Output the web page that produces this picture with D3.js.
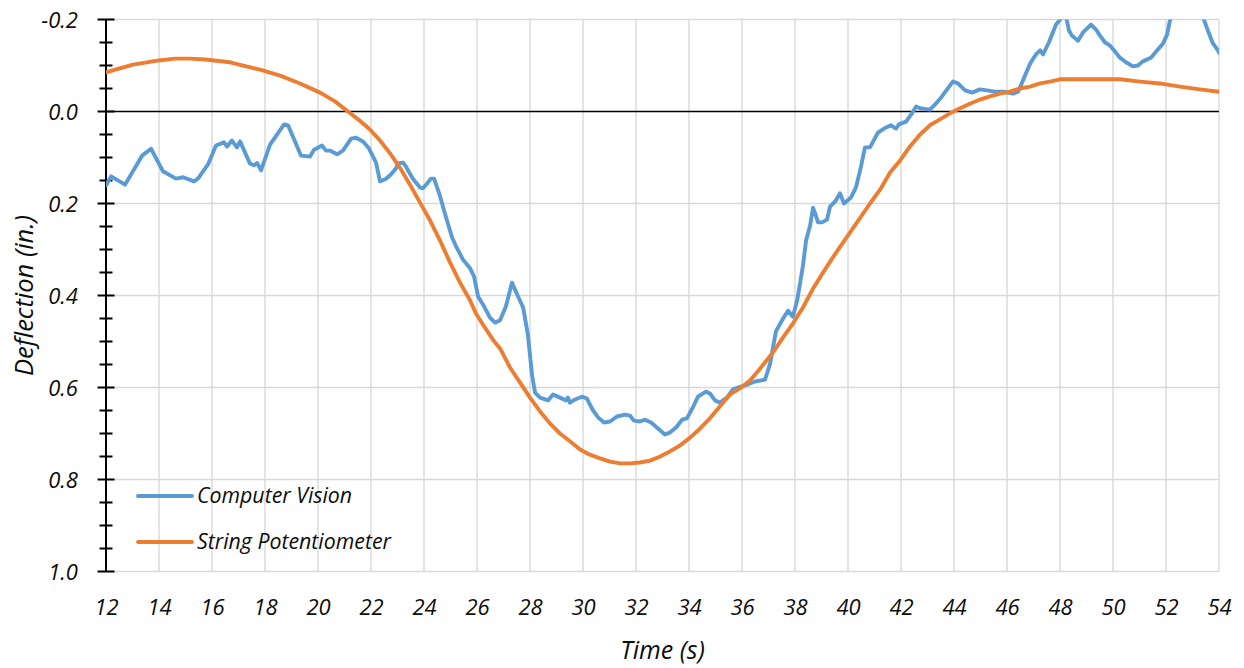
<!DOCTYPE html>
<html>
<head>
<meta charset="utf-8">
<script src="https://cdn.jsdelivr.net/npm/d3@7"></script>
<style>
  html, body { margin: 0; padding: 0; background: #fff; }
  svg { display: block; }
  text { font-family: "Open Sans", Lato, sans-serif; font-style: italic; fill: #0d0d0d; }
</style>
</head>
<body>
<svg id="chart" width="1244" height="668"></svg>
<script>
// Computer Vision deflection trace (time in s, deflection in inches; positive = downward)
const cvTime = [12.0, 12.19, 12.72, 13.36, 13.70, 14.15, 14.64, 14.91, 15.32, 15.47, 15.85, 16.15, 16.45, 16.57, 16.75, 16.94, 17.06, 17.43, 17.58, 17.70, 17.85, 18.19, 18.72, 18.87, 19.36, 19.70, 19.85, 20.15, 20.30, 20.45, 20.72, 20.94, 21.25, 21.43, 21.70, 21.92, 22.19, 22.34, 22.57, 22.75, 22.94, 23.02, 23.21, 23.32, 23.58, 23.85, 23.96, 24.11, 24.26, 24.38, 24.60, 24.83, 25.06, 25.21, 25.47, 25.74, 25.89, 26.04, 26.23, 26.49, 26.68, 26.87, 27.09, 27.32, 27.55, 27.74, 27.92, 28.08, 28.19, 28.38, 28.68, 28.87, 29.13, 29.36, 29.43, 29.51, 29.70, 29.96, 30.15, 30.26, 30.38, 30.57, 30.79, 31.02, 31.28, 31.58, 31.77, 31.92, 32.15, 32.34, 32.57, 32.83, 33.09, 33.28, 33.51, 33.74, 33.92, 34.15, 34.34, 34.64, 34.79, 34.98, 35.17, 35.43, 35.66, 35.96, 36.23, 36.49, 36.87, 37.06, 37.28, 37.55, 37.74, 37.92, 38.08, 38.19, 38.30, 38.42, 38.57, 38.68, 38.75, 38.87, 39.02, 39.21, 39.32, 39.51, 39.70, 39.85, 40.11, 40.30, 40.49, 40.64, 40.83, 41.13, 41.36, 41.62, 41.81, 41.92, 42.19, 42.38, 42.57, 42.72, 43.09, 43.28, 43.51, 43.85, 43.96, 44.15, 44.42, 44.68, 44.98, 45.25, 45.55, 45.89, 46.23, 46.42, 46.68, 46.87, 47.09, 47.25, 47.36, 47.58, 47.85, 48.08, 48.23, 48.34, 48.45, 48.68, 48.87, 49.17, 49.36, 49.51, 49.70, 49.89, 50.11, 50.26, 50.49, 50.75, 50.94, 51.13, 51.43, 51.62, 51.89, 52.04, 52.15, 52.40, 52.80, 53.10, 53.35, 53.43, 53.58, 53.77, 53.96, 54.0];
const cvDeflection = [0.161, 0.141, 0.159, 0.096, 0.081, 0.130, 0.146, 0.143, 0.152, 0.146, 0.115, 0.074, 0.067, 0.076, 0.063, 0.078, 0.065, 0.113, 0.117, 0.112, 0.128, 0.072, 0.028, 0.030, 0.096, 0.098, 0.083, 0.074, 0.085, 0.085, 0.093, 0.085, 0.059, 0.057, 0.065, 0.080, 0.111, 0.152, 0.146, 0.137, 0.124, 0.113, 0.111, 0.120, 0.146, 0.165, 0.167, 0.157, 0.146, 0.146, 0.183, 0.230, 0.274, 0.293, 0.322, 0.341, 0.359, 0.402, 0.420, 0.448, 0.459, 0.454, 0.424, 0.372, 0.402, 0.426, 0.485, 0.574, 0.611, 0.622, 0.628, 0.615, 0.622, 0.628, 0.622, 0.633, 0.626, 0.620, 0.624, 0.637, 0.650, 0.665, 0.676, 0.674, 0.663, 0.659, 0.661, 0.672, 0.674, 0.670, 0.676, 0.689, 0.702, 0.698, 0.687, 0.670, 0.667, 0.643, 0.620, 0.609, 0.613, 0.628, 0.633, 0.622, 0.604, 0.598, 0.593, 0.587, 0.583, 0.548, 0.478, 0.450, 0.433, 0.446, 0.411, 0.374, 0.335, 0.280, 0.248, 0.209, 0.220, 0.241, 0.241, 0.235, 0.207, 0.196, 0.178, 0.200, 0.187, 0.165, 0.120, 0.078, 0.078, 0.046, 0.037, 0.030, 0.037, 0.028, 0.022, 0.007, -0.011, -0.007, -0.004, -0.015, -0.030, -0.057, -0.065, -0.061, -0.046, -0.041, -0.048, -0.046, -0.043, -0.043, -0.039, -0.043, -0.078, -0.104, -0.124, -0.133, -0.124, -0.150, -0.189, -0.205, -0.205, -0.176, -0.165, -0.154, -0.172, -0.189, -0.178, -0.165, -0.150, -0.143, -0.128, -0.117, -0.107, -0.098, -0.100, -0.109, -0.117, -0.130, -0.148, -0.167, -0.198, -0.240, -0.270, -0.260, -0.220, -0.200, -0.176, -0.148, -0.133, -0.128];

// String Potentiometer deflection trace
const spTime = [12.00, 13.02, 14.00, 14.60, 15.17, 15.74, 16.68, 17.81, 18.57, 19.32, 20.08, 20.64, 21.13, 21.58, 21.96, 22.34, 22.72, 23.09, 23.47, 23.85, 24.23, 24.60, 24.98, 25.36, 25.74, 25.96, 26.30, 26.60, 26.87, 27.25, 27.62, 28.00, 28.38, 28.75, 29.13, 29.51, 29.89, 30.26, 30.64, 31.02, 31.40, 31.77, 32.15, 32.53, 32.91, 33.28, 33.66, 34.04, 34.42, 34.79, 35.17, 35.55, 35.92, 36.30, 36.68, 37.17, 37.55, 37.92, 38.30, 38.68, 39.06, 39.43, 39.81, 40.34, 40.83, 41.21, 41.58, 41.96, 42.34, 42.72, 43.09, 43.47, 43.85, 44.23, 44.60, 44.98, 45.36, 45.74, 46.11, 46.49, 46.87, 47.25, 47.62, 48.00, 48.75, 49.51, 50.26, 51.02, 51.77, 52.53, 53.28, 54.0];
const spDeflection = [-0.085, -0.102, -0.111, -0.115, -0.115, -0.113, -0.107, -0.091, -0.078, -0.061, -0.041, -0.022, 0.000, 0.020, 0.039, 0.063, 0.091, 0.122, 0.159, 0.198, 0.237, 0.280, 0.328, 0.372, 0.411, 0.439, 0.470, 0.496, 0.515, 0.557, 0.589, 0.622, 0.652, 0.678, 0.700, 0.717, 0.735, 0.746, 0.754, 0.761, 0.765, 0.765, 0.763, 0.759, 0.750, 0.739, 0.726, 0.709, 0.689, 0.667, 0.641, 0.615, 0.602, 0.585, 0.559, 0.524, 0.491, 0.461, 0.426, 0.385, 0.350, 0.317, 0.285, 0.241, 0.200, 0.170, 0.133, 0.107, 0.076, 0.050, 0.030, 0.017, 0.004, -0.007, -0.017, -0.026, -0.033, -0.039, -0.043, -0.050, -0.054, -0.061, -0.065, -0.070, -0.070, -0.070, -0.070, -0.065, -0.061, -0.054, -0.048, -0.043];

// Axis ticks and labels
const xTicks = [12, 14, 16, 18, 20, 22, 24, 26, 28, 30, 32, 34, 36, 38, 40, 42, 44, 46, 48, 50, 52, 54];
const yTicks = [-0.2, 0.0, 0.2, 0.4, 0.6, 0.8, 1.0];
const yMinorTicks = [-0.15, -0.1, -0.05, 0.05, 0.1, 0.15, 0.25, 0.3, 0.35, 0.45, 0.5, 0.55, 0.65, 0.7, 0.75, 0.85, 0.9, 0.95];

const seriesNames = ["Computer Vision", "String Potentiometer"];
const seriesColors = ["#5B9BD5", "#ED7D31"];

const svg = d3.select("#chart");
const plot = { left: 106, right: 1219, top: 19.5, bottom: 571.5 };

const x = d3.scaleLinear().domain([12, 54]).range([plot.left, plot.right]);
// deflection axis runs downward: -0.2 at the top, 1.0 at the bottom
const y = d3.scaleLinear().domain([-0.2, 1.0]).range([plot.top, plot.bottom]);

// gridlines
const grid = svg.append("g").attr("stroke", "#d9d9d9").attr("stroke-width", 1.4);
grid.selectAll("line.v").data(xTicks.slice(1)).join("line")
  .attr("class", "v")
  .attr("x1", d => x(d)).attr("x2", d => x(d))
  .attr("y1", plot.top).attr("y2", plot.bottom);
grid.selectAll("line.h").data(yTicks.filter(d => d !== 0)).join("line")
  .attr("class", "h")
  .attr("x1", plot.left).attr("x2", plot.right)
  .attr("y1", d => y(d)).attr("y2", d => y(d));

// horizontal axis line at zero deflection
svg.append("line")
  .attr("x1", plot.left).attr("x2", plot.right)
  .attr("y1", y(0)).attr("y2", y(0))
  .attr("stroke", "#000").attr("stroke-width", 1.7);

// vertical axis with crossing major and minor ticks
const fmt1 = d => d3.format(".1f")(d).replace("\u2212", "-");
const yAxisMajor = d3.axisLeft(y).tickValues(yTicks).tickSize(0).tickFormat(fmt1);
const yAxis = svg.append("g").attr("transform", `translate(${plot.left},0)`);
yAxis.append("line")
  .attr("x1", 0).attr("x2", 0).attr("y1", plot.top).attr("y2", plot.bottom)
  .attr("stroke", "#000").attr("stroke-width", 2);
yAxis.selectAll("line.major").data(yTicks).join("line")
  .attr("class", "major")
  .attr("x1", -8.5).attr("x2", 8.5)
  .attr("y1", d => y(d)).attr("y2", d => y(d))
  .attr("stroke", "#000").attr("stroke-width", 2);
yAxis.selectAll("line.minor").data(yMinorTicks).join("line")
  .attr("class", "minor")
  .attr("x1", -6.5).attr("x2", 6.5)
  .attr("y1", d => y(d)).attr("y2", d => y(d))
  .attr("stroke", "#000").attr("stroke-width", 2);

const yLabels = svg.append("g").attr("transform", `translate(${plot.left},0)`).call(yAxisMajor);
yLabels.select(".domain").remove();
yLabels.selectAll(".tick line").remove();
yLabels.selectAll(".tick text")
  .attr("x", -28).attr("dy", "0.36em")
  .style("font-size", "22px").style("font-family", "'Open Sans', Lato, sans-serif")
  .style("font-style", "italic").attr("fill", "#0d0d0d");

// time labels along the bottom
const xAxis = d3.axisBottom(x).tickValues(xTicks).tickSize(0).tickFormat(d3.format("d"));
const xLabels = svg.append("g").attr("transform", `translate(0,${plot.bottom})`).call(xAxis);
xLabels.select(".domain").remove();
xLabels.selectAll(".tick text")
  .attr("y", 43.5).attr("dy", 0)
  .style("font-size", "22px").style("font-family", "'Open Sans', Lato, sans-serif")
  .style("font-style", "italic").attr("fill", "#0d0d0d");

// axis titles
svg.append("text")
  .attr("x", (plot.left + plot.right) / 2).attr("y", 659)
  .attr("text-anchor", "middle")
  .style("font-size", "25px")
  .text("Time (s)");
svg.append("text")
  .attr("transform", `translate(33,${(plot.top + plot.bottom) / 2}) rotate(-90)`)
  .attr("text-anchor", "middle")
  .style("font-size", "25.5px")
  .text("Deflection (in.)");

// data lines, clipped to the plot area
svg.append("clipPath").attr("id", "plotClip")
  .append("rect")
  .attr("x", plot.left).attr("y", plot.top)
  .attr("width", plot.right - plot.left).attr("height", plot.bottom - plot.top);

const line = d3.line().x(d => x(d[0])).y(d => y(d[1]));
const cvData = cvTime.map((t, i) => [t, cvDeflection[i]]);
const spData = spTime.map((t, i) => [t, spDeflection[i]]);

const lines = svg.append("g").attr("clip-path", "url(#plotClip)");
[cvData, spData].forEach((data, i) => {
  lines.append("path")
    .datum(data)
    .attr("d", line)
    .attr("fill", "none")
    .attr("stroke", seriesColors[i])
    .attr("stroke-width", 3.9)
    .attr("stroke-linejoin", "round")
    .attr("stroke-linecap", "round");
});

// legend
const legend = svg.append("g");
const legendY = [496, 542];
seriesNames.forEach((name, i) => {
  legend.append("line")
    .attr("x1", 138).attr("x2", 192)
    .attr("y1", legendY[i]).attr("y2", legendY[i])
    .attr("stroke", seriesColors[i]).attr("stroke-width", 3.9)
    .attr("stroke-linecap", "round");
  legend.append("text")
    .attr("x", 197).attr("y", legendY[i] + 7)
    .style("font-size", "21.3px")
    .text(name);
});
</script>
</body>
</html>
